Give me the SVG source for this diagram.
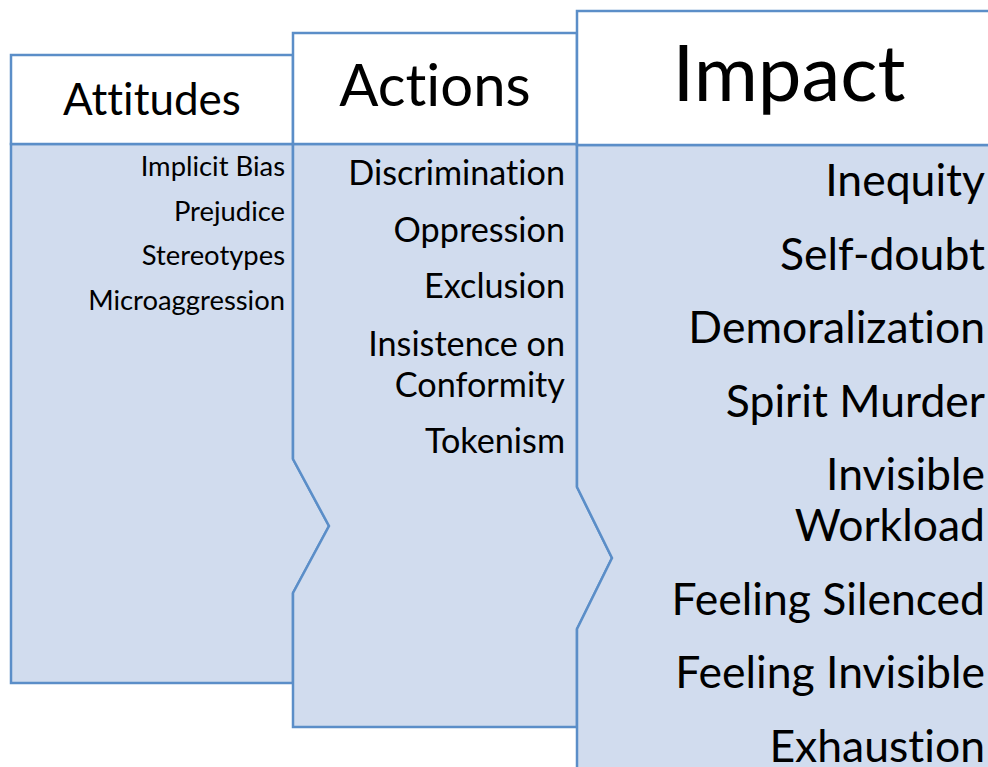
<svg xmlns="http://www.w3.org/2000/svg" width="988" height="767" viewBox="0 0 988 767">
<style>
.shape{fill:#D1DCEE;stroke:#5B8EC8;stroke-width:2.5;stroke-linejoin:miter}
.head{fill:#FFFFFF;stroke:#5B8EC8;stroke-width:2.5}
text{font-family:Lato,"Liberation Sans",sans-serif;fill:#000000;font-variant-ligatures:none;font-feature-settings:"liga" 0}
.h{text-anchor:middle}
.i{text-anchor:end}
</style>
<rect width="988" height="767" fill="#FFFFFF"/>
<g id="attitudes">
<path class="shape" d="M11,144 L293,144 L293,459 L329,526 L293,593 L293,683 L11,683 Z"/>
<rect class="head" x="11" y="55" width="282" height="89"/>
<text class="h" x="152" y="115" font-size="44">Attitudes</text>
<g font-size="27.4">
<text class="i" x="285" y="176">Implicit Bias</text>
<text class="i" x="285" y="221">Prejudice</text>
<text class="i" x="285" y="265">Stereotypes</text>
<text class="i" x="285" y="310">Microaggression</text>
</g>
</g>
<g id="actions">
<path class="shape" d="M293,144 L577,144 L577,487 L612,558 L577,629 L577,727 L293,727 L293,593 L329,526 L293,459 Z"/>
<rect class="head" x="293" y="33" width="284" height="111"/>
<text class="h" x="435" y="106" font-size="58">Actions</text>
<g font-size="34.2">
<text class="i" x="565" y="185">Discrimination</text>
<text class="i" x="565" y="242">Oppression</text>
<text class="i" x="565" y="298">Exclusion</text>
<text class="i" x="565" y="356">Insistence on</text>
<text class="i" x="565" y="397">Conformity</text>
<text class="i" x="565" y="453">Tokenism</text>
</g>
</g>
<g id="impact">
<path class="shape" d="M577,145 L1000,145 L1000,780 L577,780 L577,629 L612,558 L577,487 Z"/>
<rect class="head" x="577" y="11" width="423" height="134"/>
<text class="h" x="789" y="101" font-size="78">Impact</text>
<g font-size="44.5">
<text class="i" x="985" y="196">Inequity</text>
<text class="i" x="985" y="270">Self-doubt</text>
<text class="i" x="985" y="343">Demoralization</text>
<text class="i" x="985" y="417">Spirit Murder</text>
<text class="i" x="985" y="490">Invisible</text>
<text class="i" x="985" y="541">Workload</text>
<text class="i" x="985" y="615">Feeling Silenced</text>
<text class="i" x="985" y="688">Feeling Invisible</text>
<text class="i" x="985" y="762">Exhaustion</text>
</g>
</g>
<g id="connectors"></g>
</svg>
